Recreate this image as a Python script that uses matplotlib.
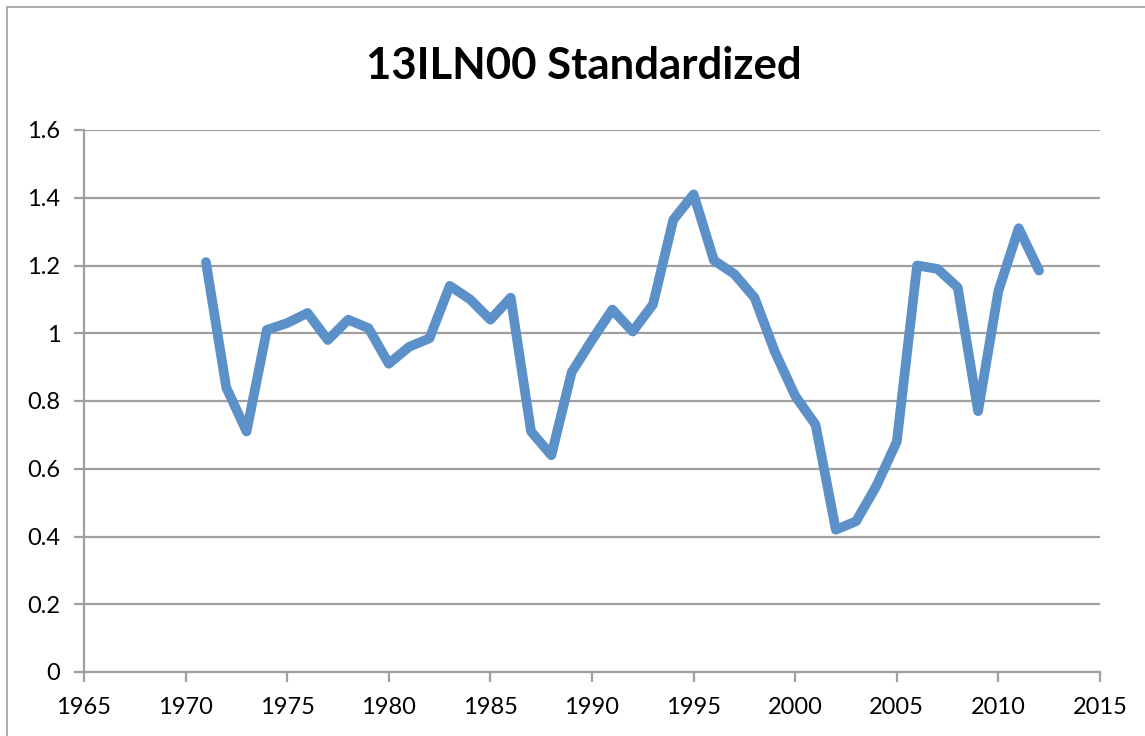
import matplotlib.pyplot as plt
from matplotlib.patches import Rectangle

# ## DATA ###################################################################
years = list(range(1971, 2013))
values = [1.21, 0.84, 0.71, 1.01, 1.03, 1.06, 0.98, 1.04, 1.015, 0.91,
          0.96, 0.985, 1.14, 1.10, 1.04, 1.105, 0.71, 0.64, 0.885, 0.98,
          1.07, 1.005, 1.085, 1.335, 1.41, 1.215, 1.175, 1.105, 0.945, 0.815,
          0.73, 0.42, 0.445, 0.55, 0.68, 1.20, 1.19, 1.135, 0.77, 1.125,
          1.31, 1.185]
title = "13ILN00 Standardized"

# ## STYLE ##################################################################
LINE_COLOR = "#5B90C8"
GRID_COLOR = "#A0A0A0"
plt.rcParams.update({'font.family': ['Lato', 'DejaVu Sans'], 'font.size': 17})

fig = plt.figure(figsize=(11.45, 7.36), dpi=100)
ax = fig.add_axes([84 / 1145, 1 - 672 / 736, (1100 - 84) / 1145, (672 - 130) / 736])

ax.plot(years, values, color=LINE_COLOR, linewidth=7,
        solid_capstyle='round', solid_joinstyle='round', zorder=3)

ax.set_xlim(1965, 2015)
ax.set_ylim(0, 1.6)
ax.set_xticks(range(1965, 2016, 5))
ax.set_yticks([0, 0.2, 0.4, 0.6, 0.8, 1.0, 1.2, 1.4, 1.6])
ax.set_yticklabels(["0", "0.2", "0.4", "0.6", "0.8", "1", "1.2", "1.4", "1.6"])

ax.grid(axis='y', color=GRID_COLOR, linewidth=1.6)
ax.set_axisbelow(True)
for side in ('top', 'right'):
    ax.spines[side].set_visible(False)
for side in ('left', 'bottom'):
    ax.spines[side].set_color(GRID_COLOR)
    ax.spines[side].set_linewidth(1.6)
ax.tick_params(axis='both', color=GRID_COLOR, width=1.6, length=7, labelsize=17)
ax.tick_params(axis='x', pad=11)
ax.tick_params(axis='y', pad=10)

fig.text(584 / 1145, 1 - 66 / 736, title, ha='center', va='center',
         fontsize=31.5, fontweight='bold')

# chart area border
fig.patches.append(Rectangle((7 / 1145, -0.01), 1.0, 1.0, transform=fig.transFigure,
                             fill=False, edgecolor='#A0A0A0', linewidth=1.2))

fig.savefig("out.png", dpi=100, facecolor='w')
